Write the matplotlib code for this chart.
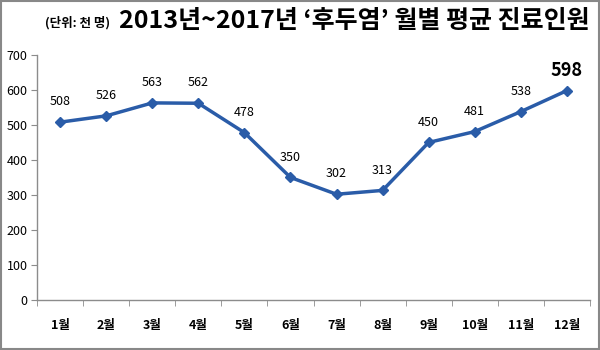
import matplotlib
matplotlib.use("Agg")
import matplotlib.pyplot as plt
from matplotlib.patches import Rectangle
import numpy as np

plt.rcParams['font.family'] = ['Noto Sans CJK KR', 'DejaVu Sans']

months = ['1월', '2월', '3월', '4월', '5월', '6월', '7월', '8월', '9월', '10월', '11월', '12월']
patients = [508, 526, 563, 562, 478, 350, 302, 313, 450, 481, 538, 598]
y_ticks = [0, 100, 200, 300, 400, 500, 600, 700]

line_color = '#2a5ca8'
axis_color = '#8c8c8c'

fig = plt.figure(figsize=(6, 3.5), dpi=100)
ax = fig.add_axes([0.062, 0.143, 0.921, 0.7])

x = np.arange(len(months))
ax.plot(x, patients, color=line_color, lw=2.5, marker='D', ms=5.5,
        markerfacecolor=line_color, markeredgecolor=line_color)

for i, v in enumerate(patients):
    if i == len(patients) - 1:
        ax.annotate(str(v), (i, v), xytext=(0, 8), textcoords='offset points',
                    ha='center', va='bottom', fontsize=13, fontweight='bold')
    else:
        ax.annotate(str(v), (i, v), xytext=(0, 10), textcoords='offset points',
                    ha='center', va='bottom', fontsize=9)

ax.set_xlim(-0.5, len(months) - 0.5)
ax.set_ylim(0, 700)
ax.set_yticks(y_ticks)
ax.set_yticklabels([str(t) for t in y_ticks], fontsize=9)

# category labels centered, tick marks at boundaries
ax.set_xticks(x)
ax.set_xticklabels(months, fontsize=9, fontweight='bold')
ax.tick_params(axis='x', which='major', length=0, pad=14)
ax.set_xticks(np.arange(-0.5, len(months) + 0.5, 1), minor=True)
ax.tick_params(axis='x', which='minor', length=4, color=axis_color, direction='out')
ax.tick_params(axis='y', length=4, color=axis_color, direction='out', pad=3)

for s in ['top', 'right']:
    ax.spines[s].set_visible(False)
for s in ['left', 'bottom']:
    ax.spines[s].set_color(axis_color)
    ax.spines[s].set_linewidth(1)

fig.text(0.075, 0.935, '(단위: 천 명)', fontsize=9, fontweight='bold', ha='left', va='center')
fig.text(0.59, 0.94, "2013년~2017년 \u2018후두염\u2019 월별 평균 진료인원", fontsize=18,
         fontweight='bold', ha='center', va='center')

fig.patches.append(Rectangle((0.002, 0.003), 0.996, 0.994, transform=fig.transFigure,
                             fill=False, edgecolor='#888888', lw=1.5))

fig.savefig('out.png', dpi=100)
